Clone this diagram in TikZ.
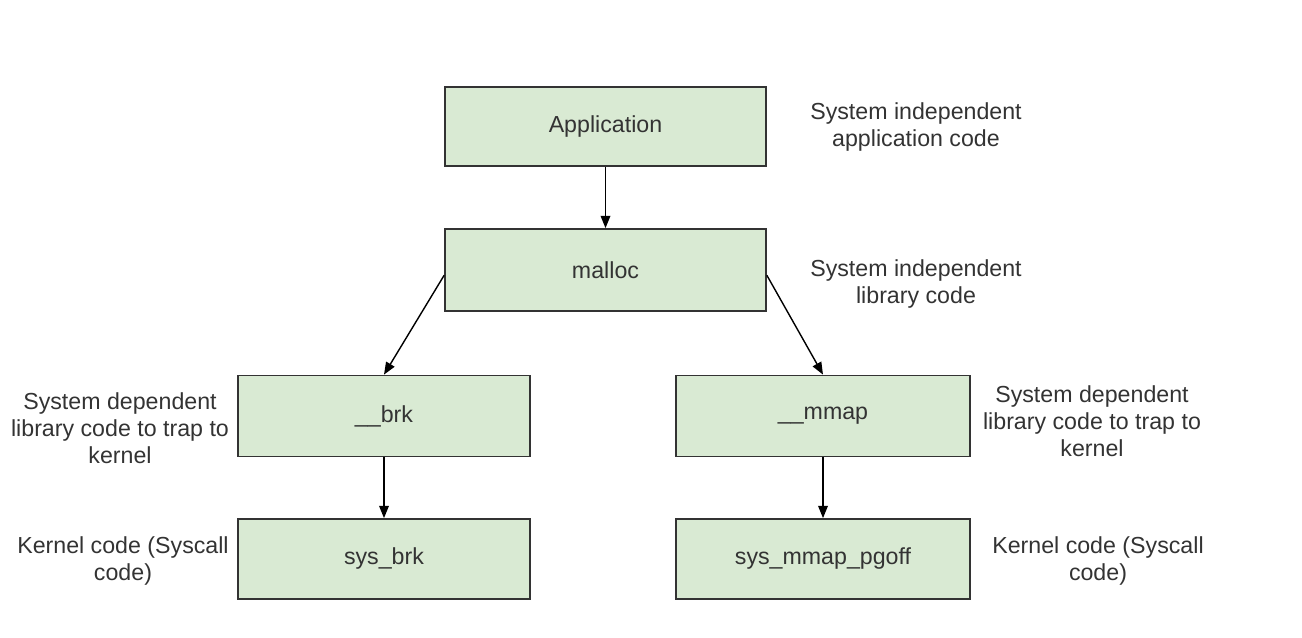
\documentclass[tikz,border=0pt]{standalone}
\usepackage{fontspec}
\setmainfont{Liberation Sans}
\usetikzlibrary{arrows.meta,positioning}
\definecolor{boxfill}{HTML}{D9EAD3}
\definecolor{ink}{HTML}{333333}

\begin{document}
\begin{tikzpicture}[x=0.02cm,y=-0.02cm,
          every node/.style={font=\fontsize{13.2}{15.4}\selectfont,text=ink},
          block/.style={rectangle,draw=ink,fill=boxfill,line width=1pt,
              minimum width=5.84cm,minimum height=1.62cm,align=center},
          note/.style={align=center},
          flow/.style={-{Triangle[length=7pt,width=5.5pt]},line width=.8pt,draw=black}]
        \useasboundingbox (0,0) rectangle (1302,638);
        \node[block,minimum width=6.42cm,minimum height=1.58cm] (app) at (605.5,126.5) {Application};
        \node[block,minimum width=6.42cm,minimum height=1.64cm] (malloc) at (605.5,270) {malloc};
        \node[block] (brk) at (384,416) {\_\_brk};
        \node[block,minimum width=5.88cm] (mmap) at (823,416) {\_\_mmap};
        \node[block,minimum height=1.6cm] (sysbrk) at (384,559) {sys\_brk};
        \node[block,minimum width=5.88cm,minimum height=1.6cm] (sysmmap) at (823,559) {sys\_mmap\_pgoff};

        \node[note] (appnote) at (916,127) {System independent\\application code};
        \node[note] (mallocnote) at (916,284) {System independent\\library code};
        \node[note] (brknote) at (120,428) {System dependent\\library code to trap to\\kernel};
        \node[note] (mmapnote) at (1092,421) {System dependent\\library code to trap to\\kernel};
        \node[note] (sysbrknote) at (123,561) {Kernel code (Syscall\\code)};
        \node[note] (sysmmapnote) at (1098,561) {Kernel code (Syscall\\code)};

        \draw[flow] (app)--(malloc);
        \draw[flow] ([yshift=-3pt]malloc.west)--(brk.north);
        \draw[flow] ([yshift=-3pt]malloc.east)--(mmap.north);
        \draw[flow] (brk)--(sysbrk);
        \draw[flow] (mmap)--(sysmmap);
      \end{tikzpicture}
\end{document}
